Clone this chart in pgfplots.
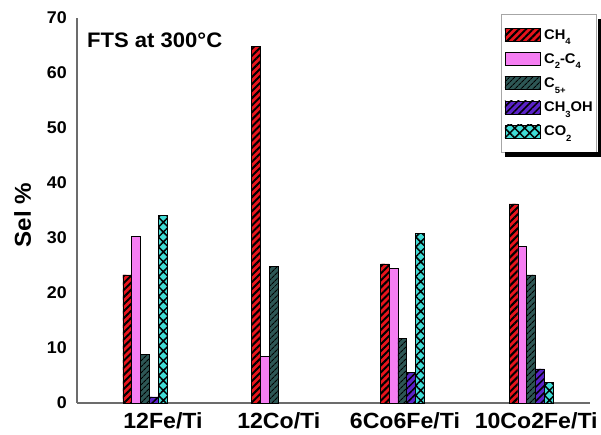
\documentclass[border=0pt]{standalone}
\usepackage{fontspec}
\setmainfont{Liberation Sans}[FakeStretch=1.05]
\usepackage{pgfplots}
\pgfplotsset{compat=1.18}
\usetikzlibrary{patterns.meta}
\definecolor{cRed}{HTML}{E8141C}
\definecolor{cPink}{HTML}{F57EF2}
\definecolor{cTeal}{HTML}{2D5755}
\definecolor{cPurp}{HTML}{5A22C8}
\definecolor{cCyan}{HTML}{40DCD6}
\newcommand{\sub}[1]{\raisebox{-0.4em}{\fontsize{9}{9}\selectfont #1}}
\pgfplotsset{
  mylegend/.style={legend image code/.code={\draw[##1] (0pt,-6.5pt) rectangle (35pt,6.5pt);}},
  mybar/.style={ybar, bar width=0.0684, draw=black, line width=0.6pt, mylegend},
}
\begin{document}
\begin{tikzpicture}
\path[use as bounding box] (-77pt,-32pt) rectangle (524pt,403pt);
\begin{axis}[
  scale only axis, width=513pt, height=385pt,
  xmin=-0.528, xmax=3.458, ymin=0, ymax=70,
  axis x line=bottom, axis y line=left,
  axis line style={-, gray!85!black, line width=1.2pt},
  ytick={0,10,...,70},
  xtick={0.14,1.04,2.02,3.04},
  xticklabels={12Fe/Ti,12Co/Ti,6Co6Fe/Ti,10Co2Fe/Ti},
  major tick length=0pt,
  /pgf/number format/assume math mode=true,
  yticklabel style={font=\fontsize{17}{17}\selectfont\bfseries, anchor=east, inner sep=0pt, xshift=-10pt},
  xticklabel style={font=\fontsize{22}{22}\selectfont\bfseries, anchor=north, inner sep=0pt, yshift=-9pt},
  ylabel={Sel \%},
  every axis y label/.style={at={(axis description cs:-0.1058,0.488)}, rotate=90, anchor=center, font=\fontsize{23}{23}\selectfont\bfseries},
  legend style={at={(rel axis cs:1.0136,1.0104)}, anchor=north east, draw=gray!70, fill=white, line width=0.6pt,
    font=\fontsize{14}{14}\selectfont\bfseries, row sep=10.5pt, column sep=3pt, inner xsep=3pt, inner ysep=14pt,
    nodes={inner sep=1pt}},
  legend cell align=left,
  clip=false,
]
\addplot[mybar, fill=cRed, bar shift=-0.1368,
  postaction={pattern={Lines[angle=45,distance=5pt,line width=2pt]}, pattern color=black}]
  coordinates {(0,23.3) (1,64.8) (2,25.3) (3,36.2)};
\addlegendentry{CH\sub{4}}
\addplot[mybar, fill=cPink, bar shift=-0.0684]
  coordinates {(0,30.3) (1,8.5) (2,24.4) (3,28.5)};
\addlegendentry{C\sub{2}-C\sub{4}}
\addplot[mybar, fill=cTeal, bar shift=0,
  postaction={pattern={Lines[angle=45,distance=4pt,line width=1.2pt]}, pattern color=black}]
  coordinates {(0,8.9) (1,24.8) (2,11.8) (3,23.3)};
\addlegendentry{C\sub{5+}}
\addplot[mybar, fill=cPurp, bar shift=0.0684,
  postaction={pattern={Lines[angle=45,distance=5pt,line width=1.5pt]}, pattern color=black}]
  coordinates {(0,1.1) (2,5.6) (3,6.2)};
\addlegendentry{CH\sub{3}OH}
\addplot[mybar, fill=cCyan, bar shift=0.1368,
  postaction={pattern={Hatch[angle=45,distance=7pt,line width=1.5pt]}, pattern color=black}]
  coordinates {(0,34.1) (2,30.8) (3,3.8)};
\addlegendentry{CO\sub{2}}
\node[anchor=base west, inner sep=0pt, font=\fontsize{21}{21}\selectfont\bfseries] at (rel axis cs:0.0195,0.924) {FTS at 300°C};
\end{axis}
% legend drop shadow (strips outside the legend box)
\fill[black] (520.5pt,246pt) rectangle (525pt,384pt);
\fill[black] (428pt,246pt) rectangle (525pt,250.5pt);
\end{tikzpicture}
\end{document}
